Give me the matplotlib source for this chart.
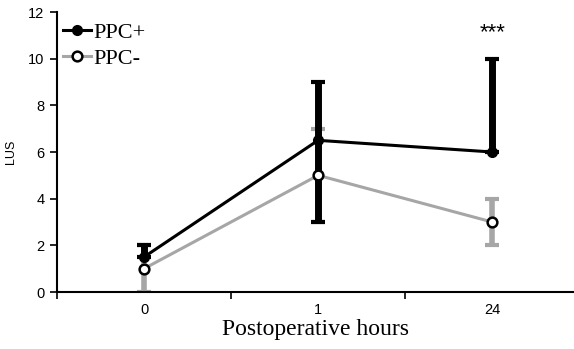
import matplotlib
matplotlib.use("Agg")
import matplotlib.pyplot as plt
import numpy as np

# data
hours = ["0", "1", "24"]
ppc_pos = [1.5, 6.5, 6.0]
ppc_pos_lo = [0.0, 3.5, 0.0]
ppc_pos_hi = [0.5, 2.5, 4.0]
ppc_neg = [1.0, 5.0, 3.0]
ppc_neg_lo = [1.0, 2.0, 1.0]
ppc_neg_hi = [1.0, 2.0, 1.0]
yticks = [0, 2, 4, 6, 8, 10, 12]

GRAY = "#a6a6a6"
x = np.arange(len(hours))

fig = plt.figure(figsize=(5.74, 3.49), dpi=100)
ax = fig.add_axes([57 / 574, 57 / 349, 1 - 57 / 574, 280 / 349])

# error bars first, then lines and markers on top
ax.errorbar(x, ppc_neg, yerr=[ppc_neg_lo, ppc_neg_hi], fmt="none",
            ecolor=GRAY, elinewidth=4, capsize=5, capthick=3, zorder=2)
ax.errorbar(x, ppc_pos, yerr=[ppc_pos_lo, ppc_pos_hi], fmt="none",
            ecolor="black", elinewidth=5, capsize=5, capthick=3, zorder=3)

ax.plot(x, ppc_neg, color=GRAY, lw=2.2, marker="o", ms=7,
        mfc="white", mec="black", mew=1.8, label="PPC-", zorder=4)
ax.plot(x, ppc_pos, color="black", lw=2.2, marker="o", ms=7,
        mfc="black", mec="black", label="PPC+", zorder=5)

ax.text(x[2], 11.1, "***", ha="center", va="center", fontsize=16,
        family="Liberation Sans")

ax.set_xlim(-0.5, 2.47)
ax.set_ylim(0, 12)
ax.set_yticks(yticks)
ax.set_yticklabels([str(v) for v in yticks], family="Liberation Sans",
                   fontsize=10.5)
ax.tick_params(axis="y", direction="out", length=5, width=1.2, pad=4)

ax.set_xticks([-0.5, 0.5, 1.5])
ax.set_xticklabels([])
ax.tick_params(axis="x", which="major", direction="out", length=5, width=1.2)
ax.set_xticks(x, minor=True)
ax.set_xticklabels(hours, minor=True, family="Liberation Sans", fontsize=10.5)
ax.tick_params(axis="x", which="minor", length=0, pad=8)

for side in ["top", "right"]:
    ax.spines[side].set_visible(False)
for side in ["left", "bottom"]:
    ax.spines[side].set_linewidth(1.5)

ax.set_ylabel("LUS", family="Liberation Sans", fontsize=9, labelpad=8)
ax.set_xlabel("Postoperative hours", family="Liberation Serif",
              fontsize=17, labelpad=1)

handles, labels = ax.get_legend_handles_labels()
leg = ax.legend(handles[::-1], labels[::-1], loc="upper left",
                bbox_to_anchor=(-0.027, 1.035), frameon=False,
                handlelength=1.25, handletextpad=0.1, labelspacing=0.25,
                prop={"family": "Liberation Serif", "size": 16})

fig.savefig("out.png", dpi=100)
